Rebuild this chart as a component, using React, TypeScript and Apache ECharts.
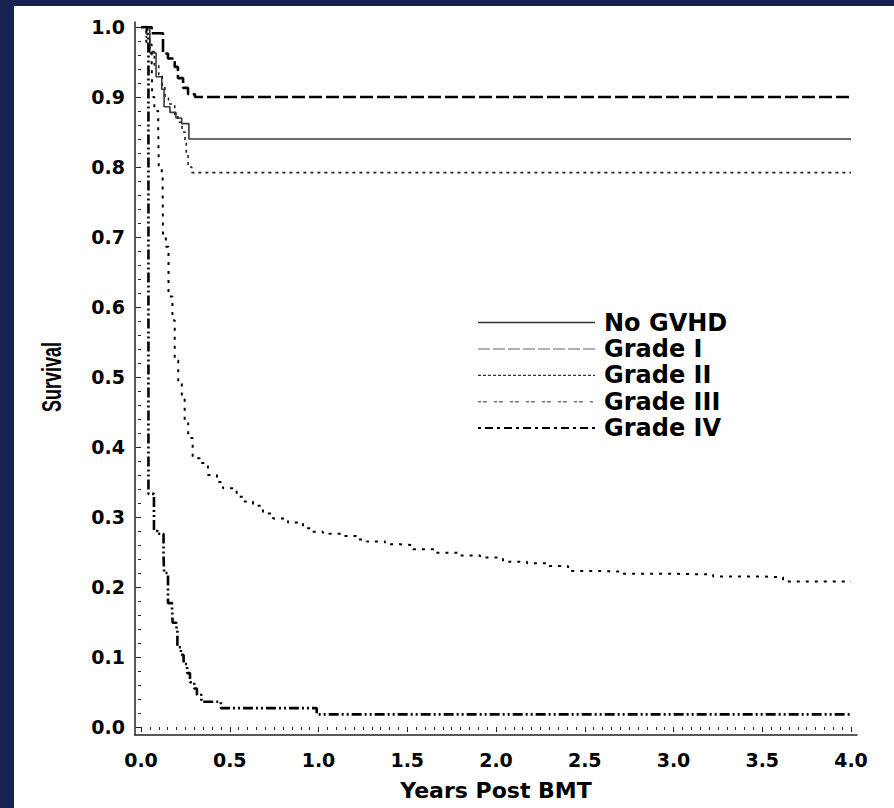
import React, { useEffect, useRef } from 'react';
import * as echarts from 'echarts';

// ---- data (years post BMT, survival probability) ----
const seriesNames = ['No GVHD', 'Grade I', 'Grade II', 'Grade III', 'Grade IV'];

const noGvhd: [number, number][] = [
  [0, 1.0], [0.05, 0.963], [0.085, 0.929], [0.117, 0.911], [0.13, 0.886],
  [0.163, 0.878], [0.197, 0.87], [0.229, 0.862], [0.27, 0.84], [4.0, 0.84],
];

const gradeI: [number, number][] = [
  [0, 1.0], [0.06, 0.991], [0.124, 0.962], [0.152, 0.955], [0.19, 0.943],
  [0.208, 0.927], [0.237, 0.913], [0.265, 0.904], [0.304, 0.9], [4.0, 0.9],
];

const gradeII: [number, number][] = [
  [0, 1.0], [0.03, 0.985], [0.05, 0.965], [0.075, 0.945], [0.1, 0.93],
  [0.12, 0.915], [0.135, 0.9], [0.155, 0.89], [0.19, 0.875], [0.208, 0.864],
  [0.231, 0.85], [0.248, 0.836], [0.255, 0.82], [0.265, 0.8], [0.286, 0.792],
  [4.0, 0.792],
];

const gradeIII: [number, number][] = [
  [0, 1.0], [0.03, 0.975], [0.06, 0.952], [0.063, 0.9], [0.075, 0.88],
  [0.097, 0.855], [0.1, 0.8], [0.117, 0.786], [0.122, 0.77], [0.124, 0.7],
  [0.14, 0.686], [0.155, 0.615], [0.177, 0.581], [0.19, 0.524], [0.21, 0.491],
  [0.23, 0.47], [0.246, 0.434], [0.266, 0.413], [0.291, 0.384], [0.332, 0.377],
  [0.377, 0.36], [0.428, 0.35], [0.462, 0.341], [0.539, 0.329], [0.575, 0.322],
  [0.631, 0.316], [0.687, 0.305], [0.744, 0.298], [0.828, 0.292], [0.913, 0.284],
  [0.962, 0.279], [1.025, 0.276], [1.138, 0.273], [1.215, 0.268], [1.272, 0.265],
  [1.375, 0.261], [1.459, 0.26], [1.532, 0.254], [1.656, 0.249], [1.786, 0.245],
  [1.91, 0.242], [2.039, 0.236], [2.175, 0.234], [2.293, 0.23], [2.406, 0.223],
  [2.546, 0.222], [2.699, 0.219], [2.963, 0.218], [3.223, 0.215], [3.504, 0.214],
  [3.617, 0.208], [4.0, 0.207],
];

const gradeIV: [number, number][] = [
  [0, 1.0], [0.035, 0.99], [0.042, 0.333], [0.073, 0.28], [0.095, 0.276],
  [0.127, 0.245], [0.13, 0.22], [0.152, 0.177], [0.175, 0.171], [0.178, 0.149],
  [0.2, 0.139], [0.205, 0.114], [0.225, 0.103], [0.24, 0.09], [0.26, 0.077],
  [0.276, 0.064], [0.3, 0.055], [0.315, 0.046], [0.34, 0.036], [0.45, 0.027],
  [0.99, 0.018], [4.0, 0.018],
];

const seriesData = [noGvhd, gradeI, gradeII, gradeIII, gradeIV];

const xMin = 0;
const xMax = 4;
const xInterval = 0.5;
const yMin = 0;
const yMax = 1;
const yInterval = 0.1;

const xTitle = 'Years Post BMT';
const yTitle = 'Survival';

// ---- styles ----
const plotStyles = [
  { color: '#3a3a3a', width: 1.6, type: 'solid' as any },
  { color: '#000000', width: 2.6, type: [13, 4] as any },
  { color: '#222222', width: 1.6, type: [3, 4] as any },
  { color: '#000000', width: 2, type: [3, 6] as any },
  { color: '#000000', width: 2.6, type: [10, 3, 2, 3, 2, 3] as any },
];

const legendStyles = [
  { color: '#333333', width: 1.5, type: 'solid' as any },
  { color: '#999999', width: 1.5, type: [12, 3] as any },
  { color: '#333333', width: 1.2, type: [3, 2] as any },
  { color: '#777777', width: 1.5, type: [3, 2, 4, 7] as any },
  { color: '#000000', width: 2, type: [3, 4, 8, 4] as any },
];

const TICK_FONT = "'DejaVu Sans', 'Liberation Sans', sans-serif";

export default function App() {
  const ref = useRef<HTMLDivElement>(null);

  useEffect(() => {
    if (!ref.current) return;
    const chart = echarts.init(ref.current, null, { renderer: 'svg' });

    const axisLineStyle = { color: '#222', width: 1.5 };

    chart.setOption({
      animation: false,
      backgroundColor: '#ffffff',
      grid: [
        { left: 127, right: 43, top: 21, bottom: 81 },
        { left: 121, right: 37, top: 16, bottom: 73 },
      ],
      graphic: [
        {
          type: 'text',
          x: 37,
          y: 371,
          rotation: Math.PI / 2,
          scaleY: 1.55,
          style: {
            text: yTitle,
            fill: '#000',
            font: "bold 18px 'Liberation Sans', Arial, sans-serif",
            textAlign: 'center',
            textVerticalAlign: 'middle',
          },
        },
      ],
      xAxis: [
        {
          type: 'value',
          gridIndex: 0,
          min: xMin,
          max: xMax,
          interval: xInterval,
          offset: 8,
          axisLine: { show: false },
          axisTick: { show: true, length: 5, lineStyle: { color: '#222', width: 1 } },
          minorTick: { show: true, splitNumber: 10, length: 3, lineStyle: { color: '#222', width: 1 } },
          splitLine: { show: false },
          axisLabel: {
            margin: 15,
            color: '#000',
            fontFamily: TICK_FONT,
            fontWeight: 'bold',
            fontSize: 19,
            formatter: (v: number) => v.toFixed(1),
          },
          name: xTitle,
          nameLocation: 'middle',
          nameGap: 44,
          nameTextStyle: {
            color: '#000',
            fontFamily: TICK_FONT,
            fontWeight: 'bold',
            fontSize: 22,
          },
        },
        {
          type: 'value',
          gridIndex: 1,
          min: 0,
          max: 1,
          axisLine: { show: true, lineStyle: axisLineStyle },
          axisTick: { show: false },
          axisLabel: { show: false },
          splitLine: { show: false },
        },
      ],
      yAxis: [
        {
          type: 'value',
          gridIndex: 0,
          min: yMin,
          max: yMax,
          interval: yInterval,
          offset: 6,
          axisLine: { show: false },
          axisTick: { show: true, length: 5, lineStyle: { color: '#222', width: 1 } },
          minorTick: { show: true, splitNumber: 5, length: 3, lineStyle: { color: '#222', width: 1 } },
          splitLine: { show: false },
          axisLabel: {
            margin: 10,
            color: '#000',
            fontFamily: TICK_FONT,
            fontWeight: 'bold',
            fontSize: 19,
            formatter: (v: number) => v.toFixed(1),
          },
        },
        {
          type: 'value',
          gridIndex: 1,
          min: 0,
          max: 1,
          axisLine: { show: true, lineStyle: axisLineStyle },
          axisTick: { show: false },
          axisLabel: { show: false },
          splitLine: { show: false },
        },
      ],
      legend: {
        orient: 'vertical',
        left: 463,
        top: 304.5,
        padding: 0,
        itemWidth: 117,
        itemHeight: 14,
        itemGap: 2.4,
        selectedMode: false,
        itemStyle: { color: 'rgba(0,0,0,0)', borderWidth: 0, opacity: 0 },
        textStyle: {
          color: '#000',
          fontFamily: TICK_FONT,
          fontWeight: 'bold',
          fontSize: 24,
          lineHeight: 24,
          padding: [0, 0, 0, 4],
        },
        data: seriesNames.map((name, i) => ({
          name,
          itemStyle: { color: 'rgba(0,0,0,0)', borderWidth: 0, opacity: 0 },
          lineStyle: { ...legendStyles[i] },
        })),
      },
      series: seriesNames.map((name, i) => ({
        name,
        type: 'line',
        xAxisIndex: 0,
        yAxisIndex: 0,
        step: 'end',
        symbol: 'none',
        showSymbol: false,
        data: seriesData[i],
        lineStyle: { ...plotStyles[i] },
        itemStyle: { color: plotStyles[i].color },
        z: 3 + i,
      })),
    });

    return () => chart.dispose();
  }, []);

  return (
    <div
      style={{
        position: 'fixed',
        left: 0,
        top: 0,
        width: 894,
        height: 808,
        background: '#172350',
        overflow: 'hidden',
      }}
    >
      <div
        ref={ref}
        style={{
          position: 'absolute',
          left: 14,
          top: 6,
          width: 880,
          height: 802,
          background: '#ffffff',
        }}
      />
    </div>
  );
}
